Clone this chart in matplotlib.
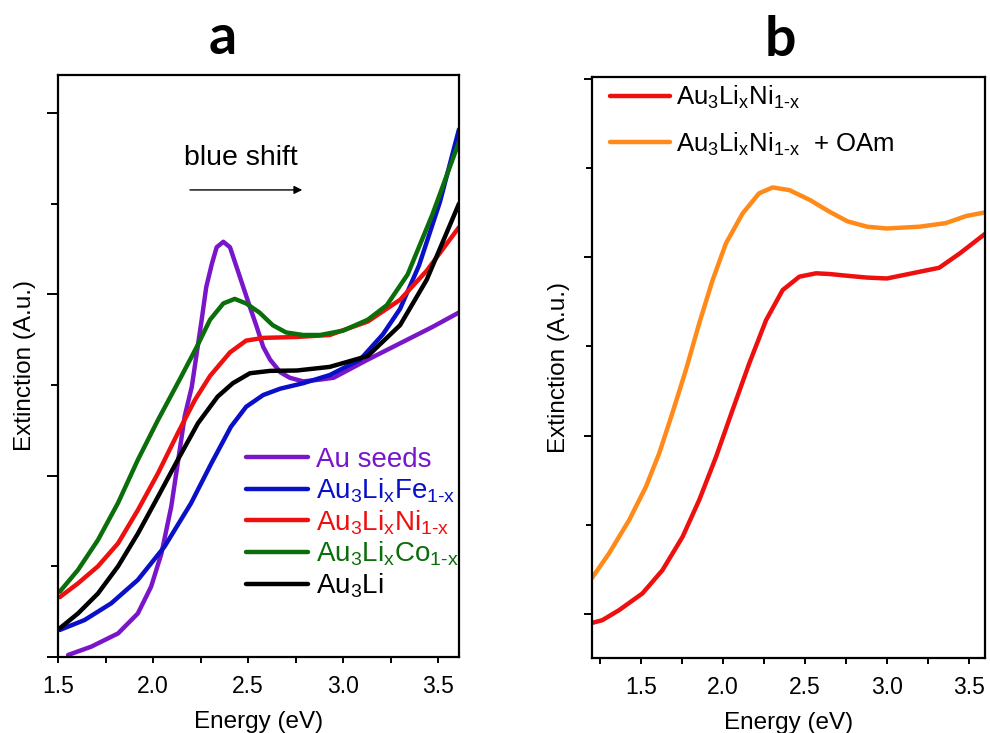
import numpy as np
import matplotlib
matplotlib.use("Agg")
import matplotlib.pyplot as plt
from matplotlib.ticker import MultipleLocator, NullFormatter

plt.rcParams['font.family'] = ['Liberation Sans', 'DejaVu Sans']
plt.rcParams['mathtext.fontset'] = 'custom'
plt.rcParams['mathtext.rm'] = 'Liberation Sans'
plt.rcParams['mathtext.it'] = 'Liberation Sans'

# ---- panel a: extinction spectra ----
au_seeds_x = [1.553, 1.675, 1.816, 1.92, 1.99, 2.044, 2.096, 2.13, 2.167, 2.204, 2.23, 2.256,
              2.28, 2.31, 2.335, 2.37, 2.405, 2.44, 2.475, 2.51, 2.546, 2.58, 2.616, 2.67,
              2.72, 2.79, 2.88, 2.95, 3.04, 3.13, 3.30, 3.47, 3.61]
au_seeds_y = [0.011, 0.057, 0.13, 0.24, 0.388, 0.57, 0.83, 1.068, 1.33, 1.49, 1.675, 1.86,
              2.04, 2.17, 2.26, 2.29, 2.26, 2.15, 2.04, 1.93, 1.82, 1.71, 1.64, 1.57,
              1.54, 1.52, 1.53, 1.54, 1.59, 1.64, 1.73, 1.82, 1.90]

fe_x = [1.509, 1.64, 1.78, 1.92, 2.06, 2.20, 2.307, 2.41, 2.49, 2.58, 2.67, 2.79,
        2.93, 3.09, 3.21, 3.30, 3.40, 3.51, 3.61]
fe_y = [0.149, 0.204, 0.296, 0.425, 0.608, 0.848, 1.068, 1.27, 1.38, 1.445, 1.48, 1.51,
        1.555, 1.64, 1.78, 1.92, 2.16, 2.51, 2.91]

ni_x = [1.509, 1.605, 1.71, 1.816, 1.92, 2.026, 2.13, 2.22, 2.30, 2.405, 2.49, 2.58,
        2.756, 2.93, 3.13, 3.30, 3.44, 3.61]
ni_y = [0.33, 0.406, 0.50, 0.627, 0.81, 1.013, 1.234, 1.417, 1.55, 1.68, 1.745, 1.76,
        1.765, 1.776, 1.85, 1.97, 2.13, 2.37]

co_x = [1.509, 1.605, 1.71, 1.816, 1.92, 2.026, 2.14, 2.23, 2.30, 2.37, 2.43, 2.49,
        2.56, 2.63, 2.70, 2.79, 2.88, 3.00, 3.13, 3.23, 3.34, 3.47, 3.61]
co_y = [0.36, 0.48, 0.645, 0.85, 1.087, 1.307, 1.53, 1.71, 1.86, 1.95, 1.975, 1.95,
        1.90, 1.83, 1.79, 1.776, 1.776, 1.80, 1.86, 1.94, 2.11, 2.44, 2.84]

li_x = [1.509, 1.605, 1.71, 1.816, 1.92, 2.026, 2.13, 2.237, 2.34, 2.42, 2.51, 2.616,
        2.756, 2.93, 3.13, 3.30, 3.44, 3.61]
li_y = [0.158, 0.24, 0.35, 0.50, 0.68, 0.884, 1.087, 1.29, 1.436, 1.51, 1.565, 1.578,
        1.58, 1.60, 1.66, 1.83, 2.08, 2.50]

# ---- panel b: Ni sample with and without OAm ----
ni_b_x = [1.198, 1.263, 1.365, 1.508, 1.63, 1.753, 1.855, 1.957, 2.058, 2.16, 2.263, 2.364,
          2.466, 2.568, 2.65, 2.76, 2.88, 3.00, 3.16, 3.32, 3.445, 3.60]
ni_b_y = [0.95, 0.966, 1.022, 1.116, 1.246, 1.433, 1.64, 1.88, 2.143, 2.404, 2.647, 2.815,
          2.89, 2.909, 2.905, 2.895, 2.885, 2.88, 2.91, 2.94, 3.02, 3.13]

oam_x = [1.198, 1.304, 1.427, 1.529, 1.61, 1.69, 1.773, 1.855, 1.936, 2.018, 2.12, 2.22,
         2.303, 2.405, 2.53, 2.65, 2.76, 2.88, 3.00, 3.20, 3.36, 3.485, 3.60]
oam_y = [1.20, 1.34, 1.527, 1.713, 1.90, 2.124, 2.367, 2.63, 2.87, 3.077, 3.245, 3.357,
         3.39, 3.375, 3.32, 3.254, 3.20, 3.17, 3.16, 3.17, 3.19, 3.23, 3.25]

lbl_fe = r'Au$_\mathrm{3}$Li$_\mathrm{x}$Fe$_\mathrm{1\text{-}x}$'
lbl_ni = r'Au$_\mathrm{3}$Li$_\mathrm{x}$Ni$_\mathrm{1\text{-}x}$'
lbl_co = r'Au$_\mathrm{3}$Li$_\mathrm{x}$Co$_\mathrm{1\text{-}x}$'
lbl_li = r'Au$_\mathrm{3}$Li'


def style_axes(ax, ymaj, ymin):
    for s in ax.spines.values():
        s.set_linewidth(1.6)
    ax.tick_params(which='both', direction='out', width=1.4, top=False, right=False,
                   labelsize=16.5)
    ax.tick_params(axis='x', which='both', length=4, pad=9)
    ax.tick_params(axis='y', which='major', length=ymaj)
    ax.tick_params(axis='y', which='minor', length=ymin)
    ax.yaxis.set_major_formatter(NullFormatter())
    ax.xaxis.set_major_locator(MultipleLocator(0.5))
    ax.xaxis.set_minor_locator(MultipleLocator(0.25))
    ax.xaxis.set_major_formatter(plt.FuncFormatter(lambda v, p: f'{v:.1f}'))


fig = plt.figure(figsize=(9.9, 7.33), dpi=100)
lw = 3.2
kw = dict(lw=lw, solid_capstyle='round', solid_joinstyle='round')

ax1 = fig.add_axes([0.0586, 0.1037, 0.405, 0.794])
ax1.plot(au_seeds_x, au_seeds_y, color='#7a16c9', label='Au seeds', **kw)
ax1.plot(fe_x, fe_y, color='#0a10c8', label=lbl_fe, **kw)
ax1.plot(ni_x, ni_y, color='#ee0f0f', label=lbl_ni, **kw)
ax1.plot(co_x, co_y, color='#0a6e0a', label=lbl_co, **kw)
ax1.plot(li_x, li_y, color='black', label=lbl_li, **kw)
ax1.set_xlim(1.5, 3.61)
ax1.set_ylim(0, 3.21)
ax1.yaxis.set_major_locator(MultipleLocator(1.0))
ax1.yaxis.set_minor_locator(MultipleLocator(0.5))
style_axes(ax1, 8, 5)
ax1.set_xlabel('Energy (eV)', fontsize=17.5, labelpad=9)
ax1.set_ylabel('Extinction (A.u.)', fontsize=17.5, labelpad=4)
ax1.annotate('', xy=(2.80, 2.576), xytext=(2.18, 2.576),
             arrowprops=dict(arrowstyle='-|>', color='black', lw=1, mutation_scale=12))
ax1.text(2.46, 2.75, 'blue shift', fontsize=20.5, ha='center', va='center')
ax1.legend(loc='upper left', bbox_to_anchor=(0.44, 0.38), frameon=False,
           fontsize=20, handlelength=2.25, handletextpad=0.3, labelspacing=0.12,
           labelcolor='linecolor', borderaxespad=0)
ax1.text(0.41, 1.036, 'a', transform=ax1.transAxes, fontsize=40, fontweight='bold',
         family='Lato', ha='center', va='baseline')

ax2 = fig.add_axes([0.598, 0.1023, 0.397, 0.793])
ax2.plot(ni_b_x, ni_b_y, color='#ee0f0f', label=lbl_ni, **kw)
ax2.plot(oam_x, oam_y, color='#ff8a1a', label=lbl_ni + r'  + OAm', **kw)
ax2.set_xlim(1.2, 3.6)
ax2.set_ylim(0.754, 4.01)
ax2.yaxis.set_major_locator(MultipleLocator(1.0))
ax2.yaxis.set_minor_locator(MultipleLocator(0.5))
style_axes(ax2, 6, 4)
ax2.set_xlabel('Energy (eV)', fontsize=17.5, labelpad=9)
ax2.set_ylabel('Extinction (A.u.)', fontsize=17.5, labelpad=6)
ax2.legend(loc='upper left', bbox_to_anchor=(0.01, 1.012), frameon=False, fontsize=18.5,
           handlelength=2.35, handletextpad=0.2, labelspacing=0.75, borderaxespad=0.15)
ax2.text(0.48, 1.036, 'b', transform=ax2.transAxes, fontsize=40, fontweight='bold',
         family='Lato', ha='center', va='baseline')

fig.savefig('out.png', dpi=100)
